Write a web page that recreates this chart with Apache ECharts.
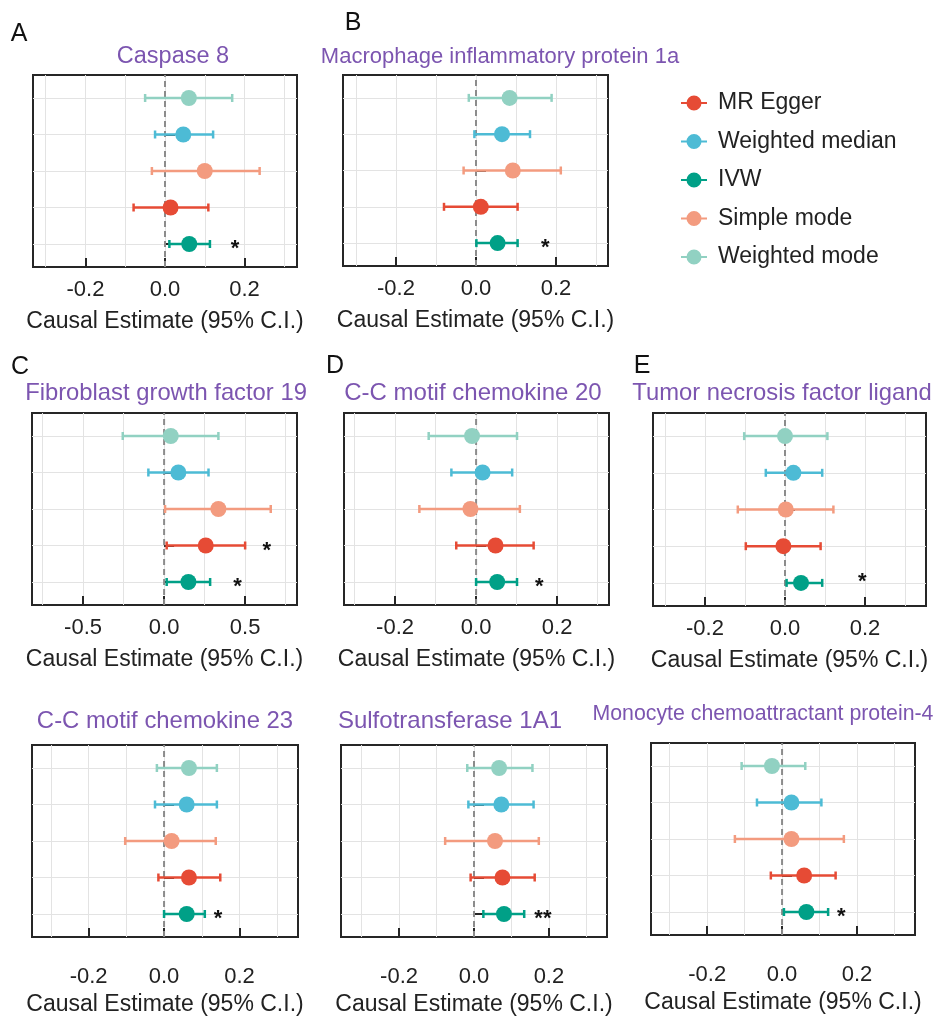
<!DOCTYPE html>
<html>
<head>
<meta charset="utf-8">
<script src="https://cdn.jsdelivr.net/npm/echarts@6/dist/echarts.min.js"></script>
<style>
html,body{margin:0;padding:0;background:#fff;}
#chart{width:937px;height:1021px;}
</style>
</head>
<body>
<div id="chart"></div>
<script>
// ---------------- DATA ----------------
const methods = ['MR Egger', 'Weighted median', 'IVW', 'Simple mode', 'Weighted mode'];
const methodRows = [2, 4, 1, 3, 5];          // row position (1 = bottom)
const rowTicks = [1, 2, 3, 4, 5];
const xTicksNarrow = [-0.2, 0, 0.2];
const xGridNarrow = [-0.3, -0.2, -0.1, 0, 0.1, 0.2, 0.3];
const xTicksWide = [-0.5, 0, 0.5];
const xGridWide = [-0.75, -0.5, -0.25, 0, 0.25, 0.5, 0.75];
const zeroRef = 0;
const axisName = 'Causal Estimate (95% C.I.)';

const panelTitles = ['Caspase 8', 'Macrophage inflammatory protein 1a', 'Fibroblast growth factor 19',
  'C-C motif chemokine 20', 'Tumor necrosis factor ligand', 'C-C motif chemokine 23',
  'Sulfotransferase 1A1', 'Monocyte chemoattractant protein-4'];
const panelLetters = ['A', 'B', 'C', 'D', 'E', '', '', ''];

// order of values: MR Egger, Weighted median, IVW, Simple mode, Weighted mode
const caspase8Est  = [0.014, 0.046, 0.061, 0.100, 0.060];
const caspase8Low  = [-0.079, -0.025, 0.011, -0.033, -0.050];
const caspase8High = [0.109, 0.121, 0.113, 0.238, 0.169];
const caspase8Stars = [[0.176, 1]];
const caspase8StarText = ['*'];

const mip1aEst  = [0.012, 0.065, 0.054, 0.092, 0.084];
const mip1aLow  = [-0.080, -0.004, 0.001, -0.031, -0.018];
const mip1aHigh = [0.104, 0.135, 0.104, 0.212, 0.189];
const mip1aStars = [[0.173, 1]];
const mip1aStarText = ['*'];

const fgf19Est  = [0.257, 0.088, 0.150, 0.335, 0.041];
const fgf19Low  = [0.016, -0.097, 0.016, 0.006, -0.255];
const fgf19High = [0.500, 0.274, 0.284, 0.658, 0.335];
const fgf19Stars = [[0.634, 2], [0.453, 1]];
const fgf19StarText = ['*', '*'];

const ccl20Est  = [0.048, 0.016, 0.052, -0.014, -0.010];
const ccl20Low  = [-0.049, -0.061, 0.000, -0.140, -0.117];
const ccl20High = [0.142, 0.089, 0.101, 0.108, 0.101];
const ccl20Stars = [[0.156, 1]];
const ccl20StarText = ['*'];

const tnfEst  = [-0.004, 0.021, 0.040, 0.002, 0.000];
const tnfLow  = [-0.098, -0.048, 0.004, -0.118, -0.102];
const tnfHigh = [0.089, 0.093, 0.093, 0.121, 0.106];
const tnfStars = [[0.193, 1.17]];
const tnfStarText = ['*'];

const ccl23Est  = [0.066, 0.060, 0.060, 0.020, 0.066];
const ccl23Low  = [-0.015, -0.024, 0.000, -0.103, -0.019];
const ccl23High = [0.149, 0.140, 0.108, 0.137, 0.140];
const ccl23Stars = [[0.143, 1]];
const ccl23StarText = ['*'];

const sult1a1Est  = [0.076, 0.073, 0.080, 0.056, 0.067];
const sult1a1Low  = [-0.009, -0.015, 0.025, -0.077, -0.018];
const sult1a1High = [0.162, 0.159, 0.134, 0.173, 0.156];
const sult1a1Stars = [[0.184, 1]];
const sult1a1StarText = ['**'];

const mcp4Est  = [0.059, 0.025, 0.065, 0.025, -0.027];
const mcp4Low  = [-0.030, -0.067, 0.005, -0.126, -0.108];
const mcp4High = [0.143, 0.105, 0.123, 0.165, 0.062];
const mcp4Stars = [[0.158, 1]];
const mcp4StarText = ['*'];

// ---------------- STYLE / LAYOUT ----------------
const methodColors = ['#E64B35', '#4DBBD5', '#00A087', '#F39B7F', '#91D1C2'];
const FONT = '"Liberation Sans", Arial, Helvetica, sans-serif';
const TITLE_COLOR = '#7c55b0';
const TEXT_COLOR = '#222';
const Y_MIN = 0.37, Y_MAX = 5.63;

const layouts = [
  {left: 33,  top: 75,  width: 264, height: 192, min: -0.332, max: 0.332, wide: false, tx: 173, ty: 57,  ts: 23.5, lm: 12, ng: 43, lx: 19,  ly: 34},
  {left: 343, top: 75,  width: 265, height: 191, min: -0.3325, max: 0.33, wide: false, tx: 500, ty: 57,  ts: 22,   lm: 12, ng: 43, lx: 353, ly: 23},
  {left: 32,  top: 413, width: 265, height: 192, min: -0.815, max: 0.82,  wide: true,  tx: 166, ty: 393, ts: 23.8, lm: 12, ng: 43, lx: 20,  ly: 367},
  {left: 344, top: 413, width: 265, height: 192, min: -0.326, max: 0.328, wide: false, tx: 473, ty: 393, ts: 24,   lm: 12, ng: 43, lx: 335, ly: 366},
  {left: 653, top: 413, width: 273, height: 193, min: -0.33,  max: 0.3525, wide: false, tx: 782, ty: 393, ts: 23.8, lm: 12, ng: 43, lx: 642, ly: 366},
  {left: 32,  top: 745, width: 266, height: 192, min: -0.35,  max: 0.355, wide: false, tx: 165, ty: 721, ts: 23.9, lm: 29, ng: 56, lx: 0, ly: 0},
  {left: 341, top: 745, width: 266, height: 192, min: -0.355, max: 0.355, wide: false, tx: 450, ty: 721, ts: 24,   lm: 29, ng: 56, lx: 0, ly: 0},
  {left: 651, top: 743, width: 264, height: 192, min: -0.35,  max: 0.355, wide: false, tx: 763, ty: 714, ts: 21.3, lm: 29, ng: 56, lx: 0, ly: 0}
];

const panelData = [
  [caspase8Est, caspase8Low, caspase8High, caspase8Stars, caspase8StarText],
  [mip1aEst, mip1aLow, mip1aHigh, mip1aStars, mip1aStarText],
  [fgf19Est, fgf19Low, fgf19High, fgf19Stars, fgf19StarText],
  [ccl20Est, ccl20Low, ccl20High, ccl20Stars, ccl20StarText],
  [tnfEst, tnfLow, tnfHigh, tnfStars, tnfStarText],
  [ccl23Est, ccl23Low, ccl23High, ccl23Stars, ccl23StarText],
  [sult1a1Est, sult1a1Low, sult1a1High, sult1a1Stars, sult1a1StarText],
  [mcp4Est, mcp4Low, mcp4High, mcp4Stars, mcp4StarText]
];

// ---------------- BUILD ----------------
const grids = [], xAxes = [], yAxes = [], series = [], graphics = [];

panelData.forEach((pd, i) => {
  const L = layouts[i];
  const [est, low, high, stars, starText] = pd;
  grids.push({left: L.left, top: L.top, width: L.width, height: L.height, show: true,
    borderColor: '#262626', borderWidth: 2, backgroundColor: 'transparent', containLabel: false});
  // grid-line axis
  xAxes.push({type: 'value', gridIndex: i, position: 'top', min: L.min, max: L.max,
    axisLine: {show: false}, axisLabel: {show: false},
    axisTick: {show: false, customValues: L.wide ? xGridWide : xGridNarrow},
    splitLine: {show: true, lineStyle: {color: '#e3e3e3', width: 1}}});
  // labelled axis
  const tv = L.wide ? xTicksWide : xTicksNarrow;
  xAxes.push({type: 'value', gridIndex: i, position: 'bottom', min: L.min, max: L.max,
    axisLine: {show: false},
    axisTick: {show: true, inside: true, length: 9, customValues: tv, lineStyle: {color: '#262626', width: 2}},
    axisLabel: {show: true, customValues: tv, margin: L.lm, fontSize: 22, color: TEXT_COLOR, fontFamily: FONT,
      formatter: v => v.toFixed(1)},
    splitLine: {show: false},
    name: axisName, nameLocation: 'middle', nameGap: L.ng,
    nameTextStyle: {fontSize: 23, color: TEXT_COLOR, fontFamily: FONT}});
  yAxes.push({type: 'value', gridIndex: i, min: Y_MIN, max: Y_MAX,
    axisLine: {show: false}, axisLabel: {show: false},
    axisTick: {show: true, inside: true, length: 10, customValues: rowTicks, lineStyle: {color: '#262626', width: 2}},
    splitLine: {show: true, lineStyle: {color: '#e3e3e3', width: 1}}});

  const xi = 2 * i + 1;
  // zero reference dashed line
  series.push({type: 'custom', name: 'zero' + i, xAxisIndex: xi, yAxisIndex: i, z: 1, silent: true,
    data: [[zeroRef]],
    renderItem: (params, api) => {
      const p1 = api.coord([api.value(0), Y_MIN]);
      const p2 = api.coord([api.value(0), Y_MAX]);
      return {type: 'line', shape: {x1: p1[0], y1: p1[1], x2: p2[0], y2: p2[1]},
        style: {stroke: '#8c8c8c', lineWidth: 2, lineDash: [6, 4]}};
    }});
  // error bars
  series.push({type: 'custom', name: 'ci' + i, xAxisIndex: xi, yAxisIndex: i, z: 2, silent: true,
    data: methods.map((m, k) => [low[k], high[k], methodRows[k], k]),
    encode: {x: [0, 1], y: 2},
    renderItem: (params, api) => {
      const y = api.value(2);
      const a = api.coord([api.value(0), y]);
      const b = api.coord([api.value(1), y]);
      const c = methodColors[api.value(3)];
      const st = {stroke: c, lineWidth: 2.5};
      const h = 4;
      return {type: 'group', children: [
        {type: 'line', shape: {x1: a[0], y1: a[1], x2: b[0], y2: b[1]}, style: st},
        {type: 'line', shape: {x1: a[0], y1: a[1] - h, x2: a[0], y2: a[1] + h}, style: st},
        {type: 'line', shape: {x1: b[0], y1: b[1] - h, x2: b[0], y2: b[1] + h}, style: st}
      ]};
    }});
  // points
  methods.forEach((m, k) => {
    series.push({type: 'scatter', name: m, xAxisIndex: xi, yAxisIndex: i, z: 4,
      symbol: 'circle', symbolSize: 16, itemStyle: {color: methodColors[k], opacity: 1},
      data: [[est[k], methodRows[k]]]});
  });
  // significance stars
  series.push({type: 'custom', name: 'stars' + i, xAxisIndex: xi, yAxisIndex: i, z: 5, silent: true,
    data: stars,
    renderItem: (params, api) => {
      const p = api.coord([api.value(0), api.value(1)]);
      return {type: 'text', x: p[0], y: p[1] + 5,
        style: {text: starText[params.dataIndex], fill: '#111', fontSize: 22, fontWeight: 'bold', fontFamily: FONT,
          align: 'center', verticalAlign: 'middle', textAlign: 'center', textVerticalAlign: 'middle'}};
    }});

  graphics.push({type: 'text', x: L.tx, y: L.ty,
    style: {text: panelTitles[i], fill: TITLE_COLOR, fontSize: L.ts, fontFamily: FONT,
      align: 'center', verticalAlign: 'middle', textAlign: 'center', textVerticalAlign: 'middle'}});
  if (panelLetters[i]) {
    graphics.push({type: 'text', x: L.lx, y: L.ly,
      style: {text: panelLetters[i], fill: '#111', fontSize: 25, fontFamily: FONT,
        align: 'center', verticalAlign: 'middle', textAlign: 'center', textVerticalAlign: 'middle'}});
  }
});

const chart = echarts.init(document.getElementById('chart'), null, {renderer: 'canvas'});
chart.setOption({
  backgroundColor: '#ffffff',
  animation: false,
  grid: grids,
  xAxis: xAxes,
  yAxis: yAxes,
  series: series,
  graphic: graphics,
  legend: {
    data: methods, orient: 'vertical', left: 676, top: 86,
    itemWidth: 26, itemHeight: 15, itemGap: 14.5, selectedMode: false,
    icon: 'path://M0,6.5H26V8.5H0Z M5.5,7.5A7.5,7.5 0 1 1 20.5,7.5A7.5,7.5 0 1 1 5.5,7.5Z',
    textStyle: {fontSize: 23, color: TEXT_COLOR, fontFamily: FONT, lineHeight: 24, padding: [0, 0, 0, 6]}
  }
});
</script>
</body>
</html>
